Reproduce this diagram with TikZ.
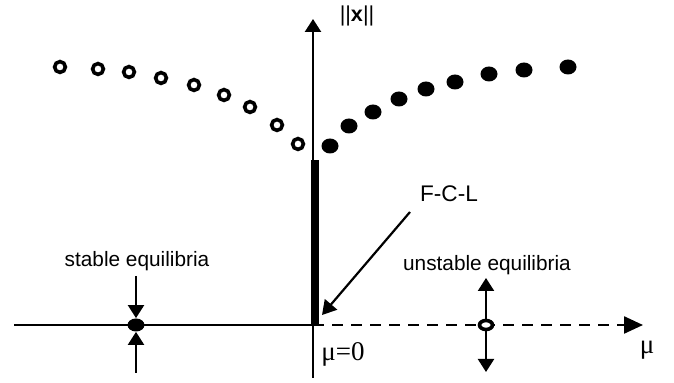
\documentclass[tikz,border=0pt]{standalone}
\usepackage{fontspec}
\setmainfont{Liberation Sans}
\newfontfamily\serifmu{Liberation Serif}
\usetikzlibrary{arrows.meta,shapes.geometric}

\begin{document}
\begin{tikzpicture}[x=0.5pt,y=-0.5pt,
    axisline/.style={line width=1.2pt},
    bigtip/.style={-{Triangle[length=9.5pt,width=8.5pt]}},
    smalltip/.style={line width=1.1pt,-{Triangle[length=6.5pt,width=8pt]}},
    opendot/.style={circle,draw,line width=1.8pt,minimum size=5.4pt,inner sep=0pt,fill=white},
    fulldot/.style={ellipse,fill,minimum width=8.5pt,minimum height=7.5pt,inner sep=0pt},
    lbl/.style={font=\fontsize{10.4}{12}\selectfont},
    mulbl/.style={font=\serifmu\fontsize{13.5}{15}\selectfont}]
    \useasboundingbox (0,0) rectangle (674,383);
    % axes
    \coordinate (xl) at (14,325);
    \coordinate (o) at (313,325);
    \coordinate (xr) at (643,325);
    \coordinate (yb) at (313,378);
    \coordinate (yt) at (313,19);
    \draw[axisline] (xl) -- (o);
    \draw[axisline,dash pattern=on 5.5pt off 4pt,bigtip] (o) -- (xr);
    \draw[axisline,-{Triangle[length=6.5pt,width=8pt]}] (yb) -- (yt);
    \node[font=\fontsize{10.8}{12}\selectfont] (norm) at (357,16) {||\textbf{x}||};
    \node[mulbl] (mu0) at (343,354) {μ=0};
    \node[mulbl] (mu) at (647,350) {μ};
    % the bar of equilibria at mu=0
    \coordinate (bartop) at (315,160);
    \coordinate (barbot) at (315,325);
    \draw[line width=4pt] (barbot) -- (bartop);
    % periodic branches
    \foreach \i/\p in {1/{(60,67)},2/{(98,69)},3/{(129,72)},4/{(161,78)},5/{(194,85)},
                       6/{(224,95)},7/{(250,107)},8/{(277,125)},9/{(298,144)}}{
      \node[opendot] (o\i) at \p {};
    }
    \foreach \i/\p in {1/{(330,146)},2/{(349,126)},3/{(373,112)},4/{(399,99)},5/{(426,89)},
                       6/{(455,82)},7/{(489,74)},8/{(524,70)},9/{(568,67)}}{
      \node[fulldot] (f\i) at \p {};
    }
    % F-C-L pointer
    \node[font=\fontsize{11.3}{13}\selectfont] (fcl) at (449,194) {F-C-L};
    \coordinate (fcltail) at (410,212);
    \coordinate (fcltip) at (322,315);
    \draw[smalltip,-{Triangle[length=7pt,width=8pt]}] (fcltail) -- (fcltip);
    % stable equilibrium
    \node[ellipse,fill,minimum width=8.5pt,minimum height=6.5pt,inner sep=0pt] (st) at (136,325) {};
    \node[lbl] (stlbl) at (137,261) {stable equilibria};
    \coordinate (sttop) at (136,276);
    \coordinate (stbot) at (136,373);
    \draw[smalltip] (sttop) -- (st.north);
    \draw[smalltip] (stbot) -- (st.south);
    % unstable equilibrium
    \node[ellipse,draw,fill=white,line width=1.8pt,minimum width=6.5pt,minimum height=4.5pt,inner sep=0pt] (un) at (486,325) {};
    \node[lbl] (unlbl) at (487,265) {unstable equilibria};
    \coordinate (untop) at (486,278);
    \coordinate (unbot) at (486,372);
    \draw[smalltip] (un.north) -- (untop);
    \draw[smalltip] (un.south) -- (unbot);
\end{tikzpicture}
\end{document}
